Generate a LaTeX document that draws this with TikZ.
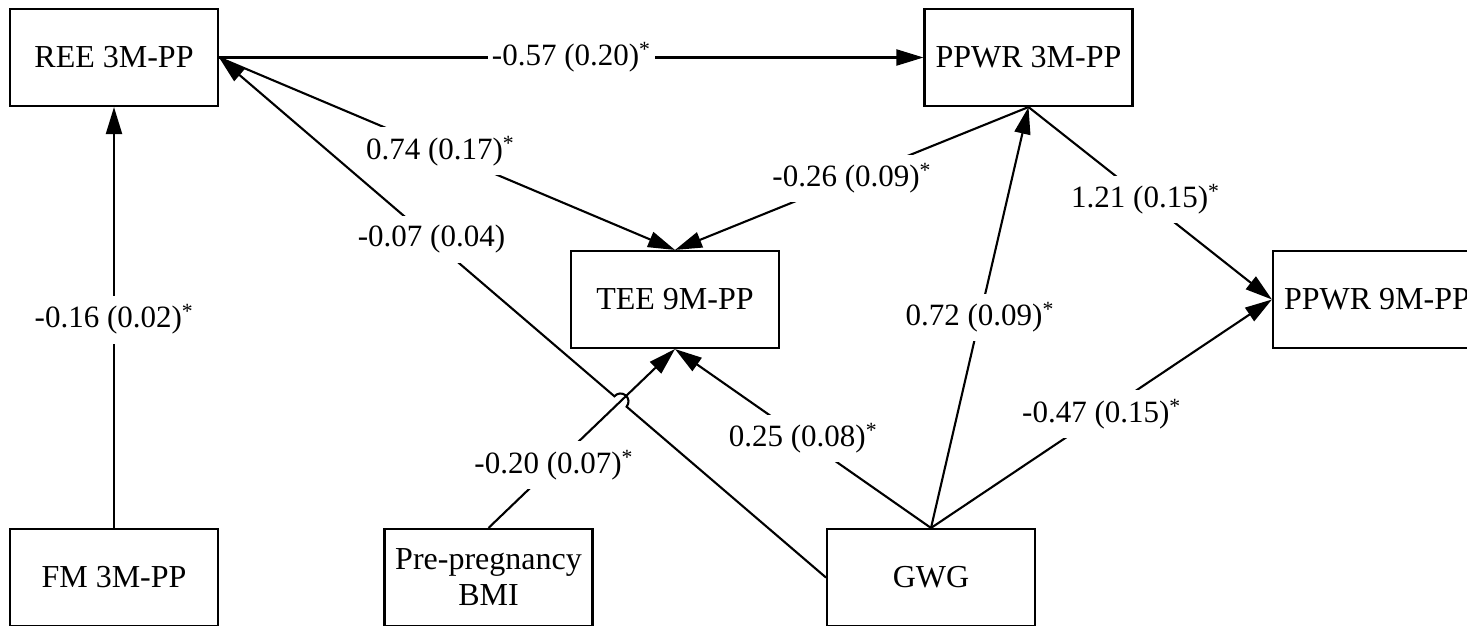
\documentclass[tikz,border=0pt]{standalone}
\usepackage{fontspec}
\setmainfont{Liberation Serif}
\usetikzlibrary{arrows.meta,calc}
\begin{document}
\begin{tikzpicture}[x=1pt,y=1pt,
  box/.style={draw, line width=2.1pt, minimum width=208pt, minimum height=97pt, inner sep=0pt,
              font=\fontsize{32}{36}\selectfont, align=center},
  conn/.style={line width=2.1pt, -{Triangle[length=27pt,width=16pt]}},
  lbl/.style={fill=white, inner xsep=4pt, inner ysep=9pt, font=\fontsize{31}{36}\selectfont}]
\useasboundingbox (0,0) rectangle (1467,-625);
\clip (0,0) rectangle (1467,-625);

\node[box] (ree)   at (114,-57.5)    {REE 3M-PP};
\node[box] (ppwr3) at (1028.5,-57.5) {PPWR 3M-PP};
\node[box] (tee)   at (675,-299.5)   {TEE 9M-PP};
\node[box] (ppwr9) at (1377,-299.5)  {PPWR 9M-PP};
\node[box] (fm)    at (114,-577.5)   {FM 3M-PP};
\node[box] (bmi)   at (488.5,-577.5) {Pre-pregnancy\\BMI};
\node[box] (gwg)   at (931,-577.5)   {GWG};

% GWG -> REE with a line hop over BMI -> TEE
\coordinate (X) at (intersection of gwg.west--ree.east and bmi.north--tee.south);
\draw[conn] (gwg.west) -- ($(X)!8pt!(gwg.west)$)
   arc[start angle=-40.5, delta angle=180, radius=8pt] -- (ree.east);
\path (gwg.west) -- node[lbl, pos=.65] {-0.07 (0.04)} (ree.east);

\draw[conn] (ree.east) -- node[lbl] {-0.57 (0.20)\textsuperscript{*}} (ppwr3.west);
\draw[conn] (ree.east) -- node[lbl, pos=.485] {0.74 (0.17)\textsuperscript{*}} (tee.north);
\draw[conn] (ppwr3.south) -- node[lbl, pos=.5] {-0.26 (0.09)\textsuperscript{*}} (tee.north);
\draw[conn] (ppwr3.south) -- node[lbl, pos=.48] {1.21 (0.15)\textsuperscript{*}} (ppwr9.west);
\draw[conn] (fm.north) -- node[lbl, pos=.495] {-0.16 (0.02)\textsuperscript{*}} (ree.south);
\draw[conn] (gwg.north) -- node[lbl] {0.72 (0.09)\textsuperscript{*}} (ppwr3.south);
\draw[conn] (gwg.north) -- node[lbl] {-0.47 (0.15)\textsuperscript{*}} (ppwr9.west);
\draw[conn] (gwg.north) -- node[lbl] {0.25 (0.08)\textsuperscript{*}} (tee.south);
\draw[conn] (bmi.north) -- node[lbl, pos=.35] {-0.20 (0.07)\textsuperscript{*}} (tee.south);
\end{tikzpicture}
\end{document}
